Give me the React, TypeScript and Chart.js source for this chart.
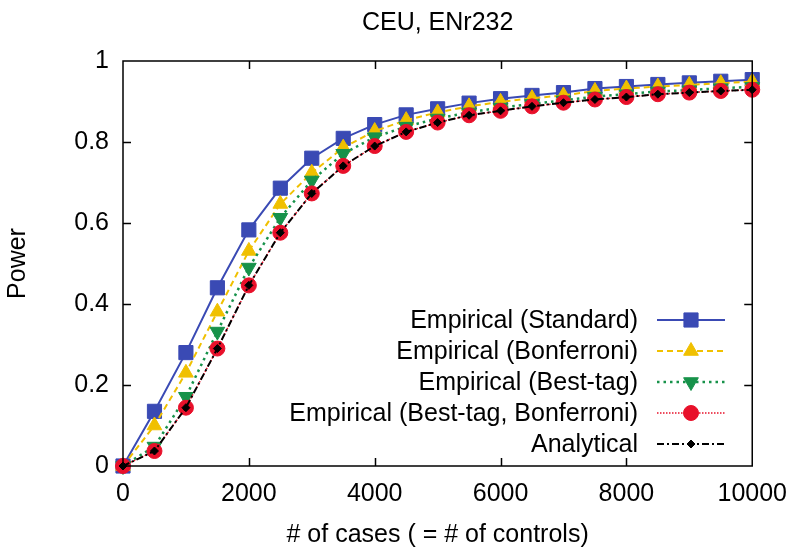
import React, { useEffect, useRef } from "react";
import { Chart, registerables } from "chart.js";
import { drawPoint } from "chart.js/helpers";

Chart.register(...registerables);

const titleText = "CEU, ENr232";
const xTitle = "# of cases ( = # of controls)";
const yTitle = "Power";

const cases = [0, 500, 1000, 1500, 2000, 2500, 3000, 3500, 4000, 4500, 5000, 5500, 6000, 6500, 7000, 7500, 8000, 8500, 9000, 9500, 10000];

const standard = [0, 0.135, 0.28, 0.44, 0.583, 0.686, 0.76, 0.809, 0.843, 0.867, 0.882, 0.896, 0.907, 0.915, 0.922, 0.932, 0.937, 0.942, 0.946, 0.95, 0.954];
const bonferroni = [0, 0.1, 0.23, 0.381, 0.531, 0.647, 0.724, 0.786, 0.827, 0.854, 0.873, 0.888, 0.899, 0.908, 0.915, 0.926, 0.932, 0.937, 0.941, 0.945, 0.949];
const bestTag = [0, 0.048, 0.171, 0.332, 0.49, 0.613, 0.705, 0.771, 0.812, 0.838, 0.858, 0.873, 0.885, 0.894, 0.903, 0.912, 0.918, 0.925, 0.928, 0.933, 0.936];
const bestTagBonf = [0, 0.037, 0.144, 0.29, 0.446, 0.576, 0.673, 0.741, 0.79, 0.825, 0.848, 0.866, 0.877, 0.888, 0.897, 0.905, 0.911, 0.918, 0.922, 0.926, 0.929];
const analytical = [0, 0.037, 0.144, 0.29, 0.446, 0.576, 0.673, 0.741, 0.79, 0.825, 0.848, 0.866, 0.877, 0.888, 0.897, 0.905, 0.911, 0.918, 0.922, 0.926, 0.929];

const xTicks = [0, 2000, 4000, 6000, 8000, 10000];
const yTicks = [0, 0.2, 0.4, 0.6, 0.8, 1];

const FONT = "'Liberation Sans', Arial, Helvetica, sans-serif";

const toPts = (ys: number[]) => cases.map((x, i) => ({ x, y: ys[i] }));

const framePlugin = {
  id: "frame",
  afterDatasetsDraw(chart: any) {
    const { ctx, chartArea: a, scales } = chart;
    ctx.save();
    ctx.strokeStyle = "#000";
    ctx.lineWidth = 1.5;
    ctx.beginPath();
    const tl = 8;
    for (const v of xTicks) {
      if (v === 0 || v === 10000) continue;
      const px = Math.round(scales.x.getPixelForValue(v)) + 0.5;
      ctx.moveTo(px, a.bottom);
      ctx.lineTo(px, a.bottom - tl);
      ctx.moveTo(px, a.top);
      ctx.lineTo(px, a.top + tl);
    }
    for (const v of yTicks) {
      if (v === 0 || v === 1) continue;
      const py = Math.round(scales.y.getPixelForValue(v)) + 0.5;
      ctx.moveTo(a.left, py);
      ctx.lineTo(a.left + tl, py);
      ctx.moveTo(a.right, py);
      ctx.lineTo(a.right - tl, py);
    }
    ctx.stroke();
    ctx.strokeRect(a.left, a.top, a.right - a.left, a.bottom - a.top);
    ctx.restore();
  },
  afterDraw(chart: any) {
    const { ctx, chartArea: a } = chart;
    ctx.save();
    ctx.fillStyle = "#000";
    ctx.font = `25px ${FONT}`;
    ctx.textAlign = "center";
    ctx.textBaseline = "middle";
    ctx.fillText(titleText, (a.left + a.right) / 2, 23);
    const textRight = 638;
    const lineL = 657;
    const lineR = 725;
    const mx = 691;
    let y = 320;
    chart.data.datasets.forEach((ds: any) => {
      ctx.textAlign = "right";
      ctx.fillStyle = "#000";
      ctx.font = `25px ${FONT}`;
      ctx.fillText(ds.label, textRight, y + 1);
      ctx.save();
      ctx.strokeStyle = ds.borderColor;
      ctx.lineWidth = ds.borderWidth;
      ctx.setLineDash(ds.borderDash || []);
      ctx.beginPath();
      ctx.moveTo(lineL, y);
      ctx.lineTo(lineR, y);
      ctx.stroke();
      ctx.setLineDash([]);
      ctx.fillStyle = ds.pointBackgroundColor;
      ctx.strokeStyle = ds.pointBackgroundColor;
      ctx.lineWidth = 1;
      drawPoint(ctx, { pointStyle: ds.pointStyle, rotation: ds.pointRotation || 0, radius: ds.pointRadius, borderWidth: 1 }, mx, y);
      ctx.restore();
      y += 31;
    });
    ctx.restore();
  },
};

export default function App() {
  const ref = useRef<HTMLCanvasElement | null>(null);
  useEffect(() => {
    if (!ref.current) return;
    const blue = "#3a4ab4";
    const yellow = "#f0c000";
    const green = "#17924a";
    const red = "#e8102a";
    const black = "#000000";
    const chart = new Chart(ref.current, {
      type: "line",
      data: {
        datasets: [
          {
            label: "Empirical (Standard)",
            data: toPts(standard),
            borderColor: blue,
            backgroundColor: blue,
            pointBackgroundColor: blue,
            pointBorderColor: blue,
            borderWidth: 2,
            pointStyle: "rect",
            pointRadius: 10,
            pointBorderWidth: 1,
            order: 5,
            clip: false,
          },
          {
            label: "Empirical (Bonferroni)",
            data: toPts(bonferroni),
            borderColor: yellow,
            backgroundColor: yellow,
            pointBackgroundColor: yellow,
            pointBorderColor: yellow,
            borderWidth: 2,
            borderDash: [6, 4],
            pointStyle: "triangle",
            pointRadius: 8.5,
            pointBorderWidth: 1,
            order: 4,
            clip: false,
          },
          {
            label: "Empirical (Best-tag)",
            data: toPts(bestTag),
            borderColor: green,
            backgroundColor: green,
            pointBackgroundColor: green,
            pointBorderColor: green,
            borderWidth: 2.5,
            borderDash: [2.5, 4],
            pointStyle: "triangle",
            pointRotation: 180,
            pointRadius: 8.5,
            pointBorderWidth: 1,
            order: 3,
            clip: false,
          },
          {
            label: "Empirical (Best-tag, Bonferroni)",
            data: toPts(bestTagBonf),
            borderColor: red,
            backgroundColor: red,
            pointBackgroundColor: red,
            pointBorderColor: red,
            borderWidth: 1.5,
            borderDash: [1.5, 1.5],
            pointStyle: "circle",
            pointRadius: 7.5,
            pointBorderWidth: 1,
            order: 2,
            clip: false,
          },
          {
            label: "Analytical",
            data: toPts(analytical),
            borderColor: black,
            backgroundColor: black,
            pointBackgroundColor: black,
            pointBorderColor: black,
            borderWidth: 2,
            borderDash: [7, 3, 2, 3],
            pointStyle: "rectRot",
            pointRadius: 4,
            pointBorderWidth: 1,
            order: 1,
            clip: false,
          },
        ] as any,
      },
      options: {
        animation: false,
        responsive: false,
        layout: { padding: { top: 61, right: 44, left: 0, bottom: 0 } },
        plugins: {
          legend: { display: false },
          title: { display: false },
          tooltip: { enabled: false },
        },
        scales: {
          x: {
            type: "linear",
            min: 0,
            max: 10000,
            afterFit: (s: any) => {
              s.height = 86;
            },
            afterBuildTicks: (s: any) => {
              s.ticks = xTicks.map((v) => ({ value: v }));
            },
            grid: { display: false, drawTicks: false },
            border: { display: false },
            ticks: {
              color: "#000",
              font: { family: FONT, size: 25 },
              padding: 13,
              maxRotation: 0,
              callback: (v: any) => String(v),
            },
            title: {
              display: true,
              text: xTitle,
              color: "#000",
              font: { family: FONT, size: 25 },
              padding: { top: 0, bottom: 2 },
            },
          },
          y: {
            type: "linear",
            min: 0,
            max: 1,
            afterFit: (s: any) => {
              s.width = 123;
            },
            afterBuildTicks: (s: any) => {
              s.ticks = yTicks.map((v) => ({ value: v }));
            },
            grid: { display: false, drawTicks: false },
            border: { display: false },
            ticks: {
              color: "#000",
              font: { family: FONT, size: 25 },
              padding: 14,
              callback: (v: any) => String(v),
            },
            title: {
              display: true,
              text: yTitle,
              color: "#000",
              font: { family: FONT, size: 25 },
              padding: { top: 3, bottom: 0 },
            },
          },
        },
      },
      plugins: [framePlugin],
    });
    return () => chart.destroy();
  }, []);
  return (
    <div style={{ position: "absolute", left: 0, top: 0, width: 800, height: 552, background: "#fff" }}>
      <canvas ref={ref} width={800} height={552} style={{ display: "block" }} />
    </div>
  );
}
